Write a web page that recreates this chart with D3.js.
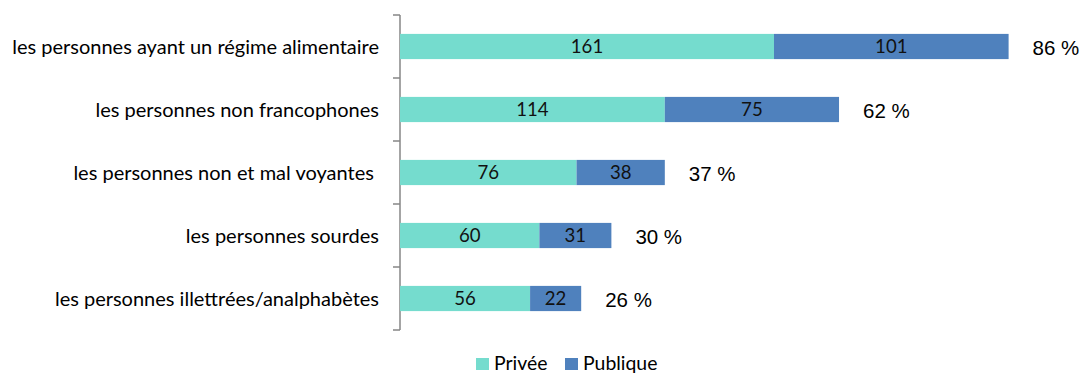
<!DOCTYPE html>
<html>
<head>
<meta charset="utf-8">
<script src="https://cdn.jsdelivr.net/npm/d3@7"></script>
<style>
  body { margin: 0; background: #fff; }
  svg { display: block; }
</style>
</head>
<body>
<svg id="chart" width="1083" height="374"></svg>
<script>
// Accessibility accommodations by sector (private / public), with share of respondents
const categories = [
  "les personnes ayant un régime alimentaire",
  "les personnes non francophones",
  "les personnes non et mal voyantes ",
  "les personnes sourdes",
  "les personnes illettrées/analphabètes"
];
const privee = [161, 114, 76, 60, 56];
const publique = [101, 75, 38, 31, 22];
const percentLabels = ["86 %", "62 %", "37 %", "30 %", "26 %"];
const seriesNames = ["Privée", "Publique"];
const colors = ["#75DCCE", "#4F81BD"];

const textFont = "Lato, 'Open Sans', sans-serif";

const svg = d3.select("#chart");
const margin = { left: 400, top: 15, bottom: 44 };
const height = 374;
const plotBottom = height - margin.bottom;

const rows = categories.map((c, i) => ({ cat: c, Privée: privee[i], Publique: publique[i], pct: percentLabels[i] }));
const stacked = d3.stack().keys(seriesNames)(rows);

const x = d3.scaleLinear().domain([0, 262]).range([margin.left, 1008.6]);
const y = d3.scaleBand().domain(categories).range([margin.top, plotBottom]).paddingInner(0.6).paddingOuter(0.3);
const band = d3.scaleBand().domain(categories).range([margin.top, plotBottom]);

// Category label size: widest label spans 367px
const probe = svg.append("text").attr("font-family", textFont).attr("font-size", "20px").text(categories[0]);
const baseSize = 20 * 367 / probe.node().getComputedTextLength();
probe.remove();

// Category axis: vertical line with ticks between the bands
const axisG = svg.append("g");
axisG.append("line")
  .attr("x1", margin.left).attr("x2", margin.left)
  .attr("y1", margin.top).attr("y2", plotBottom)
  .attr("stroke", "#868686").attr("stroke-width", 1.5);
const tickYs = categories.map(c => band(c)).concat([plotBottom]);
axisG.selectAll("line.tick").data(tickYs).enter().append("line")
  .attr("class", "tick")
  .attr("x1", margin.left - 7).attr("x2", margin.left)
  .attr("y1", d => d).attr("y2", d => d)
  .attr("stroke", "#868686").attr("stroke-width", 1.5);

axisG.selectAll("text.cat").data(categories).enter().append("text")
  .attr("class", "cat")
  .attr("x", margin.left - 21)
  .attr("y", d => band(d) + band.bandwidth() / 2)
  .attr("dy", "0.35em")
  .attr("text-anchor", "end")
  .attr("font-family", textFont)
  .attr("font-size", baseSize + "px")
  .attr("fill", "#000")
  .style("white-space", "pre")
  .text(d => d);

// Stacked bars
const layers = svg.append("g").selectAll("g").data(stacked).enter().append("g")
  .attr("fill", (d, i) => colors[i]);
layers.selectAll("rect").data(d => d).enter().append("rect")
  .attr("x", d => x(d[0]))
  .attr("width", d => x(d[1]) - x(d[0]))
  .attr("y", d => y(d.data.cat))
  .attr("height", y.bandwidth());

// Values inside the bars
const valG = svg.append("g");
stacked.forEach(layer => {
  valG.selectAll(null).data(layer).enter().append("text")
    .attr("x", d => (x(d[0]) + x(d[1])) / 2)
    .attr("y", d => y(d.data.cat) + y.bandwidth() / 2)
    .attr("dy", "0.36em")
    .attr("text-anchor", "middle")
    .attr("font-family", textFont)
    .attr("font-size", (baseSize * 0.93) + "px")
    .attr("fill", "#111")
    .text(d => d[1] - d[0]);
});

// Share labels after each bar
svg.append("g").selectAll("text").data(rows).enter().append("text")
  .attr("x", d => x(d.Privée + d.Publique) + 24)
  .attr("y", d => y(d.cat) + y.bandwidth() / 2 + 1)
  .attr("dy", "0.36em")
  .attr("font-family", "'Liberation Sans', Arial, sans-serif")
  .attr("font-size", "20.5px")
  .attr("fill", "#000")
  .text(d => d.pct);

// Legend
const legend = svg.append("g").attr("transform", "translate(476, 363)");
const legendX = [0, 89];
seriesNames.forEach((name, i) => {
  const g = legend.append("g").attr("transform", `translate(${legendX[i]},0)`);
  g.append("rect").attr("x", 0).attr("y", -5).attr("width", 13).attr("height", 12).attr("fill", colors[i]);
  g.append("text").attr("x", 18).attr("y", 0).attr("dy", "0.36em")
    .attr("font-family", textFont)
    .attr("font-size", (baseSize * 0.97) + "px").attr("fill", "#000")
    .text(name);
});
</script>
</body>
</html>
